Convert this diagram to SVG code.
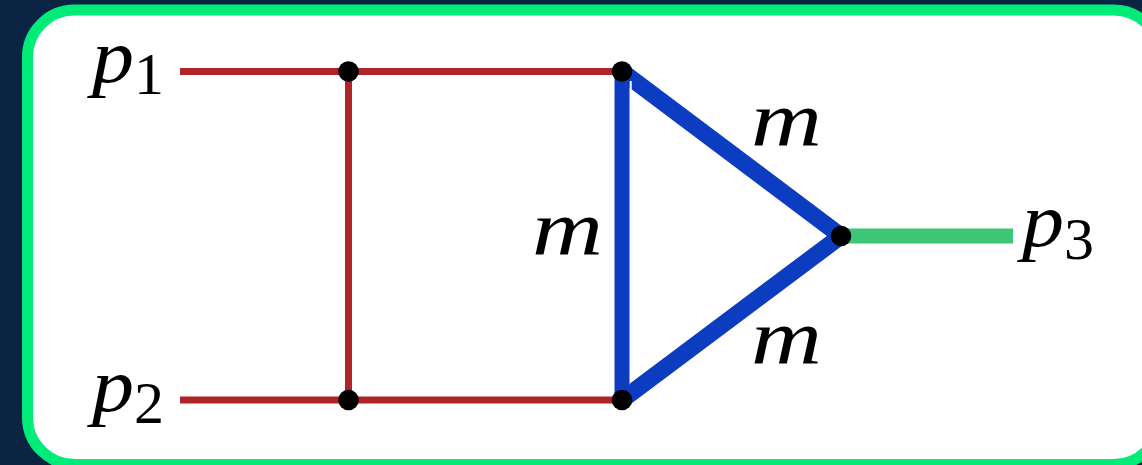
<svg xmlns="http://www.w3.org/2000/svg" width="1142" height="465" viewBox="0 0 1142 465">
<style>
.red{stroke:#ae2429;stroke-width:7;fill:none}
.blue{stroke:#0c3cc0;stroke-width:15;fill:none}
.diag{stroke:#0c3cc0;stroke-width:17;fill:none}
.green{stroke:#3cc676;stroke-width:15;fill:none}
.gap{fill:#fff}
.dot{fill:#000}
.lab{font-family:"Liberation Serif",serif;font-style:italic;fill:#000;font-size:76px}
.m{font-family:"Liberation Serif",serif;font-style:italic;fill:#000;font-size:78px}
.sub{font-family:"Liberation Serif",serif;font-style:normal;font-size:60px}
</style>
<rect width="1142" height="465" fill="#0c2444"/>
<rect id="frame" x="27.500" y="10" width="1133" height="454.500" rx="47" ry="47" fill="#fff" stroke="#00eb78" stroke-width="11"/>
<g id="connectors">
<path class="red" d="M180 71.500H622M180 400H622M348.500 71.500V400"/>
<path class="diag" d="M622 71.500L841 236M622 400L841 236"/>
<path class="gap" d="M629.500 81H631.700V89H629.500ZM625 387L630 382.500V384L626 387Z"/>
<path class="blue" d="M622 71.500V400"/>
<path class="green" d="M841 236H1013"/>
</g>
<g id="n1"><circle class="dot" cx="348.500" cy="71.500" r="10.300"/></g>
<g id="n2"><circle class="dot" cx="622" cy="71.500" r="10.300"/></g>
<g id="n3"><circle class="dot" cx="348.500" cy="400" r="10.300"/></g>
<g id="n4"><circle class="dot" cx="622" cy="400" r="10.300"/></g>
<g id="n5"><circle class="dot" cx="841" cy="236" r="10.300"/></g>
<g id="p1"><text class="lab"><tspan x="92" y="82" textLength="42" lengthAdjust="spacingAndGlyphs">p</tspan><tspan class="sub" x="134" y="94">1</tspan></text></g>
<g id="p2"><text class="lab"><tspan x="92" y="411" textLength="42" lengthAdjust="spacingAndGlyphs">p</tspan><tspan class="sub" x="134" y="423">2</tspan></text></g>
<g id="p3"><text class="lab"><tspan x="1022" y="246" textLength="42" lengthAdjust="spacingAndGlyphs">p</tspan><tspan class="sub" x="1064" y="259">3</tspan></text></g>
<g id="m1"><text class="m" x="751" y="146" textLength="71" lengthAdjust="spacingAndGlyphs">m</text></g>
<g id="m2"><text class="m" x="532" y="255" textLength="71" lengthAdjust="spacingAndGlyphs">m</text></g>
<g id="m3"><text class="m" x="751" y="364" textLength="71" lengthAdjust="spacingAndGlyphs">m</text></g>
</svg>
